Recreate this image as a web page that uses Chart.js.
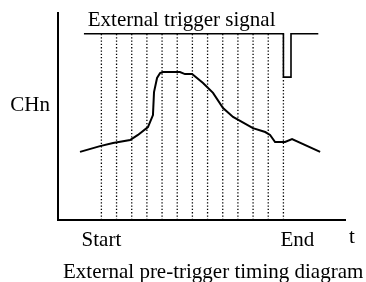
<!DOCTYPE html>
<html>
<head>
<meta charset="utf-8">
<script src="https://cdn.jsdelivr.net/npm/chart.js@4/dist/chart.umd.min.js"></script>
<style>
  html, body { margin: 0; padding: 0; background: #fff; }
  #wrap { width: 366px; height: 282px; }
</style>
</head>
<body>
<div id="wrap"><canvas id="c" width="366" height="282"></canvas></div>
<script>
// sample clock ticks (dotted lines), Start = 0, End = 12
const sampleTimes = [0, 1, 2, 3, 4, 5, 6, 7, 8, 9, 10, 11, 12];

// analog channel signal
const signalT = [-1.41, -0.09, 0.77, 1.89, 2.41, 3.07, 3.40, 3.47, 3.67, 3.87, 4.06, 5.18, 5.51, 5.98,
                 6.70, 7.36, 8.02, 8.68, 9.99, 10.8, 11.12, 11.45, 12.11, 12.57, 14.42];
const signalV = [3.29, 3.57, 3.72, 3.86, 4.11, 4.49, 5.07, 6.18, 6.86, 7.10, 7.15, 7.15, 7.05, 7.05,
                 6.62, 6.14, 5.41, 4.98, 4.44, 4.25, 4.11, 3.77, 3.77, 3.91, 3.29];

// external trigger: high, pulse low at End
const trigT = [-1.15, 12, 12, 12.5, 12.5, 14.3];
const trigV = [9, 9, 6.9, 6.9, 9, 9];

const HIGH = 9;
const FONT = '21px "Liberation Serif", "Times New Roman", serif';

const pts = (xs, ys) => xs.map((x, i) => ({ x: x, y: ys[i] }));

const datasets = [];
sampleTimes.forEach(t => {
  datasets.push({
    data: [{ x: t, y: 0 }, { x: t, y: HIGH }],
    borderColor: '#000',
    borderWidth: 1.3,
    borderDash: [1.3, 2],
    pointRadius: 0
  });
});
datasets.push({
  data: pts(trigT, trigV),
  borderColor: '#000',
  borderWidth: 1.6,
  pointRadius: 0
});
datasets.push({
  data: pts(signalT, signalV),
  borderColor: '#000',
  borderWidth: 2,
  pointRadius: 0
});

const labels = {
  id: 'labels',
  afterDraw(chart) {
    const ctx = chart.ctx;
    const a = chart.chartArea;
    const x = chart.scales.x, y = chart.scales.y;
    ctx.save();
    ctx.fillStyle = '#000';
    ctx.font = FONT;
    ctx.textBaseline = 'alphabetic';
    ctx.textAlign = 'left';
    ctx.fillText('External trigger signal', x.getPixelForValue(-0.9), 26);
    ctx.textAlign = 'right';
    ctx.fillText('CHn', a.left - 8, 111);
    ctx.textAlign = 'center';
    ctx.fillText('Start', x.getPixelForValue(0), a.bottom + 26);
    ctx.textAlign = 'left';
    ctx.fillText('End', x.getPixelForValue(12) - 3, a.bottom + 26);
    ctx.fillText('t', a.right + 4, a.bottom + 23);
    ctx.fillText('External pre-trigger timing diagram', 63, 278);
    ctx.restore();
  }
};

new Chart(document.getElementById('c'), {
  type: 'line',
  data: { datasets: datasets },
  options: {
    responsive: false,
    animation: false,
    devicePixelRatio: 1,
    layout: { padding: { left: 58, right: 21, top: 13, bottom: 62 } },
    plugins: { legend: { display: false }, tooltip: { enabled: false }, title: { display: false } },
    scales: {
      x: {
        type: 'linear', min: -2.86, max: 16.06,
        grid: { display: false, drawTicks: false },
        ticks: { display: false },
        border: { display: true, color: '#000', width: 2 }
      },
      y: {
        type: 'linear', min: 0, max: 10,
        grid: { display: false, drawTicks: false },
        ticks: { display: false },
        border: { display: true, color: '#000', width: 2 }
      }
    }
  },
  plugins: [labels]
});
</script>
</body>
</html>
